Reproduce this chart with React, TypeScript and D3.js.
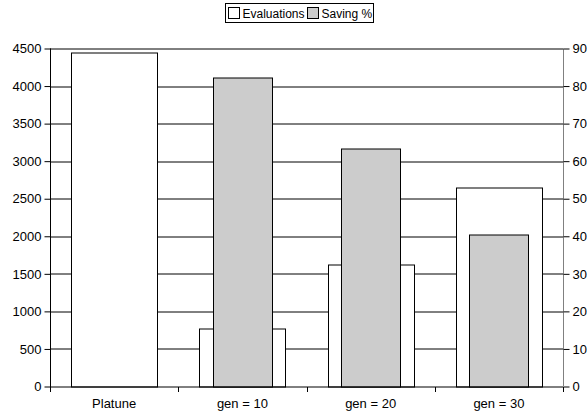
import { useEffect, useRef } from "react";
import * as d3 from "d3";

const categories = ["Platune", "gen = 10", "gen = 20", "gen = 30"];
const evaluations = [4450, 770, 1620, 2650];
const saving = [0, 82.4, 63.4, 40.4];
const leftTicks = [0, 500, 1000, 1500, 2000, 2500, 3000, 3500, 4000, 4500];
const rightTicks = [0, 10, 20, 30, 40, 50, 60, 70, 80, 90];

function App() {
  const ref = useRef<SVGSVGElement>(null);

  useEffect(() => {
    const svg = d3.select(ref.current);
    svg.selectAll("*").remove();

    const margin = { top: 48.5, right: 24, bottom: 27.5, left: 50 };
    const W = 587, H = 414;
    const width = W - margin.left - margin.right;
    const height = H - margin.top - margin.bottom;
    const font = "Liberation Sans, Arial, sans-serif";

    const g = svg.append("g").attr("transform", `translate(${margin.left},${margin.top})`);

    const x = d3.scaleBand().domain(categories).range([0, width]);
    const yL = d3.scaleLinear().domain([0, 4500]).range([height, 0]);
    const yR = d3.scaleLinear().domain([0, 90]).range([height, 0]);

    // grid lines
    g.selectAll(".grid")
      .data(leftTicks.slice(1))
      .enter()
      .append("line")
      .attr("x1", 0)
      .attr("x2", width)
      .attr("y1", (d) => Math.round(yL(d)) + 0.5)
      .attr("y2", (d) => Math.round(yL(d)) + 0.5)
      .attr("stroke", "#000")
      .attr("stroke-width", 1);

    const evalW = x.bandwidth() * 0.67;
    const saveW = x.bandwidth() * 0.46;

    // evaluations bars (wide, white)
    g.selectAll(".eval")
      .data(evaluations)
      .enter()
      .append("rect")
      .attr("x", (d, i) => Math.round(x(categories[i])! + (x.bandwidth() - evalW) / 2) + 0.5)
      .attr("y", (d) => Math.round(yL(d)) + 0.5)
      .attr("width", Math.round(evalW))
      .attr("height", (d) => Math.round(height - yL(d)))
      .attr("fill", "#fff")
      .attr("stroke", "#000")
      .attr("stroke-width", 1);

    // saving bars (narrow, gray)
    g.selectAll(".save")
      .data(saving)
      .enter()
      .append("rect")
      .attr("x", (d, i) => Math.round(x(categories[i])! + (x.bandwidth() - saveW) / 2) + 0.5)
      .attr("y", (d) => Math.round(yR(d)) + 0.5)
      .attr("width", Math.round(saveW))
      .attr("height", (d) => Math.round(height - yR(d)))
      .attr("fill", "#cccccc")
      .attr("stroke", "#000")
      .attr("stroke-width", 1);

    // left axis
    const left = g.append("g").attr("transform", "translate(0.5,0)")
      .call(d3.axisLeft(yL).tickValues(leftTicks).tickFormat(d3.format("d")).tickSize(6).tickPadding(3));
    left.select(".domain").attr("stroke", "#000").attr("d", `M0,0V${height + 4}`);

    // right axis
    const right = g.append("g").attr("transform", `translate(${width + 0.5},0)`)
      .call(d3.axisRight(yR).tickValues(rightTicks).tickFormat(d3.format("d")).tickSize(6).tickPadding(3));
    right.select(".domain").attr("stroke", "#808080").attr("d", `M0,0V${height}`);

    // bottom axis
    const bottom = g.append("g").attr("transform", `translate(0,${Math.round(height) + 0.5})`)
      .call(d3.axisBottom(x).tickSize(0).tickPadding(12));
    bottom.select(".domain").attr("stroke", "#000").attr("d", `M0,0H${width}`);
    bottom.selectAll(".sep")
      .data(d3.range(categories.length + 1))
      .enter()
      .append("line")
      .attr("x1", (d) => Math.round(d * x.step()) + 0.5)
      .attr("x2", (d) => Math.round(d * x.step()) + 0.5)
      .attr("y1", 0)
      .attr("y2", 5)
      .attr("stroke", "#000");

    svg.selectAll(".tick text").attr("font-size", 13).attr("font-family", font).attr("fill", "#000");

    // legend
    const lg = svg.append("g").attr("transform", "translate(225.5,3.5)");
    lg.append("rect").attr("width", 148).attr("height", 19).attr("fill", "#fff").attr("stroke", "#000");
    const items = [
      { label: "Evaluations", fill: "#fff", dx: 0 },
      { label: "Saving %", fill: "#cccccc", dx: 79 },
    ];
    items.forEach((it) => {
      lg.append("rect")
        .attr("x", 3 + it.dx)
        .attr("y", 4)
        .attr("width", 11)
        .attr("height", 11)
        .attr("fill", it.fill)
        .attr("stroke", "#000");
      lg.append("text")
        .attr("x", 17 + it.dx)
        .attr("y", 14)
        .attr("font-size", 12)
        .attr("font-family", font)
        .text(it.label);
    });
  }, []);

  return (
    <svg
      ref={ref}
      width={587}
      height={414}
      style={{ position: "absolute", left: 0, top: 0, background: "#fff" }}
    ></svg>
  );
}

export default App;
